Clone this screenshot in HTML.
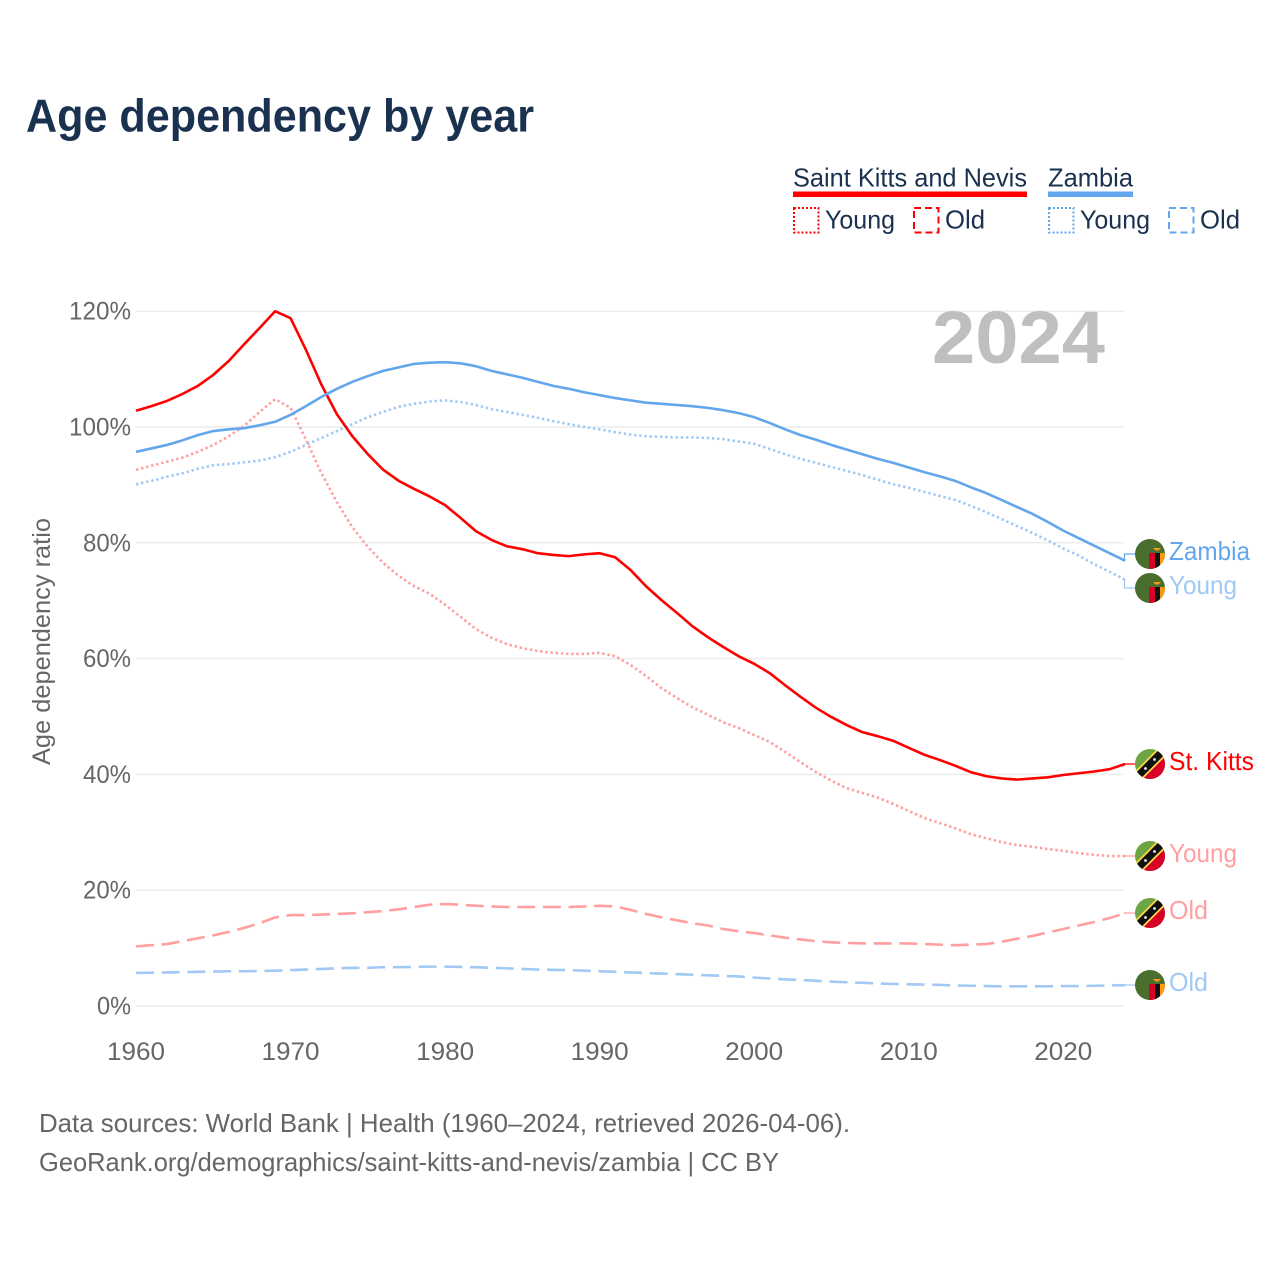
<!DOCTYPE html>
<html lang="en">
<head>
<meta charset="utf-8">
<title>Age dependency by year</title>
<style>
html,body{margin:0;padding:0;background:#fff;}
svg{display:block;}
text{font-family:"Liberation Sans",sans-serif;}
</style>
</head>
<body>
<svg id="chart" xmlns="http://www.w3.org/2000/svg" width="1280" height="1280" viewBox="0 0 1280 1280">
  <defs>
    <clipPath id="flag-clip"><circle cx="0" cy="0" r="15"/></clipPath>
    <g id="flag-zm" clip-path="url(#flag-clip)">
      <rect x="-15" y="-15" width="30" height="30" fill="#496e2d"/>
      <rect x="-1" y="-1" width="6" height="16" fill="#d80027"/>
      <rect x="5" y="-1" width="5" height="16" fill="#111"/>
      <rect x="10" y="-1" width="5" height="16" fill="#ff9811"/>
      <path d="M3,-6 L11,-6 L8.500,-3.500 L5.500,-3.500 Z" fill="#ff9811"/>
    </g>
    <g id="flag-kn" clip-path="url(#flag-clip)">
      <rect x="-15" y="-15" width="30" height="30" fill="#6da544"/>
      <path d="M-15,15 L15,-15 L15,15 Z" fill="#d80027"/>
      <path d="M-15,15 L15,-15" stroke="#ffda44" stroke-width="11"/>
      <path d="M-15,15 L15,-15" stroke="#111" stroke-width="7.500"/>
      <circle cx="4.500" cy="-4.500" r="1.400" fill="#f0f0f0"/>
      <circle cx="-4.500" cy="4.500" r="1.400" fill="#f0f0f0"/>
    </g>
  </defs>

  <text x="26" y="131.500" font-size="46" font-weight="700" fill="#1a3250" textLength="508" lengthAdjust="spacingAndGlyphs">Age dependency by year</text>

  <g>
    <text x="793" y="186.500" font-size="26" fill="#1a3250" textLength="234" lengthAdjust="spacingAndGlyphs">Saint Kitts and Nevis</text>
    <rect x="793" y="191.500" width="234" height="5.500" fill="#ff0000"/>
    <text x="1048" y="186.500" font-size="26" fill="#1a3250" textLength="85" lengthAdjust="spacingAndGlyphs">Zambia</text>
    <rect x="1048" y="191.500" width="85" height="5.500" fill="#62a6ec"/>

    <rect x="794" y="208" width="24.500" height="24.500" fill="none" stroke="#ff0000" stroke-width="2" stroke-dasharray="2 2"/>
    <text x="825" y="228.500" font-size="26" fill="#1a3250" textLength="70" lengthAdjust="spacingAndGlyphs">Young</text>
    <rect x="914" y="208" width="24.500" height="24.500" fill="none" stroke="#ff0000" stroke-width="2" stroke-dasharray="7 4"/>
    <text x="945" y="228.500" font-size="26" fill="#1a3250" textLength="40" lengthAdjust="spacingAndGlyphs">Old</text>

    <rect x="1049" y="208" width="24.500" height="24.500" fill="none" stroke="#62a6ec" stroke-width="2" stroke-dasharray="2 2"/>
    <text x="1080" y="228.500" font-size="26" fill="#1a3250" textLength="70" lengthAdjust="spacingAndGlyphs">Young</text>
    <rect x="1169" y="208" width="24.500" height="24.500" fill="none" stroke="#62a6ec" stroke-width="2" stroke-dasharray="7 4"/>
    <text x="1200" y="228.500" font-size="26" fill="#1a3250" textLength="40" lengthAdjust="spacingAndGlyphs">Old</text>
  </g>

  <g id="grid"></g>
  <g id="y-ticks"></g>
  <g id="x-ticks"></g>

  <text transform="translate(50,641.500) rotate(-90)" text-anchor="middle" font-size="25" fill="#666666" textLength="247" lengthAdjust="spacingAndGlyphs">Age dependency ratio</text>

  <text x="932" y="363" font-size="74" font-weight="700" fill="#bfbfbf" textLength="173" lengthAdjust="spacingAndGlyphs">2024</text>

  <g id="series"></g>
  <g id="end-labels"></g>

  <text x="39" y="1132" font-size="26" fill="#666666" textLength="811" lengthAdjust="spacingAndGlyphs">Data sources: World Bank | Health (1960–2024, retrieved 2026-04-06).</text>
  <text x="39" y="1171" font-size="26" fill="#666666" textLength="740" lengthAdjust="spacingAndGlyphs">GeoRank.org/demographics/saint-kitts-and-nevis/zambia | CC BY</text>
</svg>

<script>
const firstYear = 1960;
const xTickYears = [1960, 1970, 1980, 1990, 2000, 2010, 2020];
const yTickValues = [0, 20, 40, 60, 80, 100, 120];

const kittsTotal = [102.8,103.6,104.5,105.7,107.1,109,111.4,114.3,117.1,120,118.8,113.3,107.3,102.2,98.4,95.3,92.6,90.7,89.3,88,86.5,84.3,82,80.5,79.4,78.9,78.2,77.9,77.7,78,78.2,77.5,75.3,72.5,70.1,67.9,65.6,63.7,62,60.4,59.1,57.5,55.4,53.4,51.5,49.9,48.5,47.3,46.6,45.8,44.6,43.4,42.5,41.5,40.4,39.7,39.3,39.1,39.3,39.5,39.9,40.2,40.5,40.9,41.8];
const kittsYoung = [92.6,93.3,94,94.7,95.7,96.9,98.4,100.2,102.6,104.8,103.3,97.8,92,87,82.7,79.3,76.5,74.3,72.5,71.2,69.3,67.2,65.1,63.6,62.5,61.8,61.3,61,60.8,60.8,61,60.4,58.9,57,54.9,53.2,51.6,50.3,49,48,46.8,45.6,43.9,42.1,40.4,38.9,37.6,36.8,36,34.9,33.7,32.5,31.6,30.7,29.7,29,28.3,27.8,27.5,27.1,26.8,26.4,26.1,25.9,25.9];
const kittsOld = [10.3,10.5,10.7,11.2,11.7,12.2,12.8,13.5,14.3,15.3,15.7,15.7,15.8,15.9,16,16.2,16.4,16.7,17.1,17.5,17.6,17.5,17.3,17.2,17.1,17.1,17.1,17.1,17.1,17.2,17.3,17.2,16.6,15.9,15.3,14.8,14.3,13.9,13.3,12.9,12.6,12.2,11.8,11.5,11.2,11,10.9,10.8,10.8,10.8,10.8,10.7,10.6,10.5,10.6,10.7,11.1,11.6,12.1,12.7,13.3,13.9,14.5,15.2,16];

const zambiaTotal = [95.7,96.3,96.9,97.7,98.6,99.3,99.6,99.8,100.3,100.9,102.1,103.6,105.2,106.6,107.8,108.8,109.7,110.3,110.9,111.1,111.2,111,110.5,109.7,109.1,108.5,107.8,107.1,106.6,106,105.5,105,104.6,104.2,104,103.8,103.6,103.3,102.9,102.4,101.7,100.7,99.6,98.6,97.8,96.9,96.1,95.3,94.5,93.8,93,92.2,91.5,90.7,89.6,88.6,87.4,86.2,85,83.6,82.1,80.8,79.5,78.2,76.9];
const zambiaYoung = [90.1,90.7,91.4,92,92.8,93.4,93.6,93.9,94.2,94.8,95.7,96.9,98.1,99.3,100.5,101.7,102.6,103.5,104,104.4,104.6,104.3,103.8,103.1,102.6,102.1,101.6,101,100.5,100,99.6,99.1,98.7,98.4,98.3,98.2,98.2,98.1,97.9,97.5,97.1,96.2,95.3,94.5,93.8,93.1,92.4,91.7,90.9,90.1,89.5,88.8,88.1,87.4,86.4,85.3,84.1,82.9,81.7,80.4,79,77.8,76.3,75,73.6];
const zambiaOld = [5.7,5.75,5.8,5.85,5.9,5.95,6,6,6.05,6.1,6.2,6.3,6.4,6.5,6.6,6.6,6.7,6.7,6.75,6.8,6.8,6.75,6.7,6.6,6.5,6.4,6.3,6.25,6.2,6.1,6,5.9,5.8,5.7,5.6,5.5,5.4,5.3,5.2,5.1,4.9,4.75,4.6,4.5,4.35,4.2,4.1,4,3.9,3.8,3.75,3.7,3.65,3.55,3.5,3.45,3.4,3.4,3.4,3.4,3.45,3.45,3.5,3.55,3.6];

const NS = 'http://www.w3.org/2000/svg';
function xScale(year) { return 136 + (year - firstYear) * 15.455; }
function yScale(pct) { return 1006 - pct * 5.79; }
function make(tag, attrs, parent) {
  const el = document.createElementNS(NS, tag);
  for (const k in attrs) el.setAttribute(k, attrs[k]);
  parent.appendChild(el);
  return el;
}

const gridG = document.getElementById('grid');
const yTickG = document.getElementById('y-ticks');
yTickValues.forEach(function (v) {
  const line = make('line', {x1: 136, x2: 1124, y1: yScale(v), y2: yScale(v), stroke: '#ececec', 'stroke-width': 1.500}, gridG);
  
  
  const label = make('text', {x: 131, y: yScale(v) + 8.500, 'text-anchor': 'end', 'font-size': 25, fill: '#666666', textLength: 20 + 14 * String(v).length, lengthAdjust: 'spacingAndGlyphs'}, yTickG);
  label.textContent = v + '%';
  
  
});

const xTickG = document.getElementById('x-ticks');
xTickYears.forEach(function (yr) {
  const label = make('text', {x: xScale(yr), y: 1060, 'text-anchor': 'middle', 'font-size': 25, fill: '#666666', textLength: 58, lengthAdjust: 'spacingAndGlyphs'}, xTickG);
  label.textContent = String(yr);
  
  
});

function linePath(values) {
  return values.map(function (v, i) {
    return (i ? 'L' : 'M') + xScale(firstYear + i).toFixed(2) + ',' + yScale(v).toFixed(2);
  }).join(' ');
}

const seriesG = document.getElementById('series');
const labelsG = document.getElementById('end-labels');
const DOT = '2.400 2.800';
const DASH = '18 7.700';
const RED = '#ff0000';
const RED_L = '#ff9f9f';
const BLUE = '#62a6ec';
const BLUE_L = '#a1c9f4';

function drawSeries(name, values, color, dash, flagId, text, flagY, lenPx) {
  const path = make('path', {d: linePath(values), fill: 'none', stroke: color, 'stroke-width': 2.600, 'stroke-linejoin': 'round'}, seriesG);
  if (dash) path.setAttribute('stroke-dasharray', dash);
  
  

  const endY = yScale(values[values.length - 1]);
  const endX = xScale(firstYear + values.length - 1);
  const conn = make('path', {d: 'M' + endX + ',' + endY + ' L1124.500,' + endY + ' L1124.500,' + flagY + ' L1135,' + flagY, fill: 'none', stroke: color, 'stroke-width': 1.200}, labelsG);
  
  

  const flag = make('use', {href: '#' + flagId, x: 1150, y: flagY}, labelsG);
  
  

  const label = make('text', {x: 1169, y: flagY + 6, 'font-size': 26, fill: color, textLength: lenPx, lengthAdjust: 'spacingAndGlyphs'}, labelsG);
  label.textContent = text;
  
  
}

drawSeries('zambia-old', zambiaOld, BLUE_L, DASH, 'flag-zm', 'Old', 985, 39);
drawSeries('saint-kitts-old', kittsOld, RED_L, DASH, 'flag-kn', 'Old', 913, 39);
drawSeries('saint-kitts-young', kittsYoung, RED_L, DOT, 'flag-kn', 'Young', 856, 68);
drawSeries('zambia-young', zambiaYoung, BLUE_L, DOT, 'flag-zm', 'Young', 588, 68);
drawSeries('saint-kitts-total', kittsTotal, RED, null, 'flag-kn', 'St. Kitts', 764, 85);
drawSeries('zambia-total', zambiaTotal, BLUE, null, 'flag-zm', 'Zambia', 554, 81);
</script>
</body>
</html>
